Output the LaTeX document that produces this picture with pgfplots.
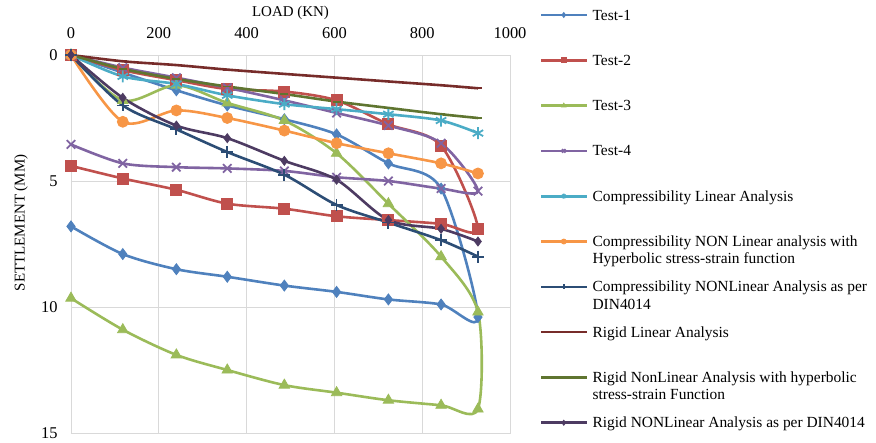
\documentclass[border=0pt]{standalone}
\usepackage{fontspec}
\setmainfont{Liberation Serif}
\usepackage{pgfplots}
\pgfplotsset{compat=1.18}
\definecolor{cA}{HTML}{4F81BD}
\definecolor{cB}{HTML}{C0504D}
\definecolor{cC}{HTML}{9BBB59}
\definecolor{cD}{HTML}{8064A2}
\definecolor{cE}{HTML}{4BACC6}
\definecolor{cF}{HTML}{F79646}
\definecolor{cG}{HTML}{2C4D75}
\definecolor{cH}{HTML}{772C2A}
\definecolor{cI}{HTML}{5F7530}
\definecolor{cJ}{HTML}{4D3B62}
\definecolor{gridc}{HTML}{D9D9D9}
\newcommand{\LE}[1]{\raisebox{0pt}[27.65bp][17.65bp]{\parbox[t]{290bp}{\raggedright #1}}}
\begin{document}
\begin{tikzpicture}
\begin{axis}[
  scale only axis, width=439bp, height=378bp,
  xmin=0, xmax=1000, ymin=0, ymax=15, y dir=reverse,
  xtick={0,200,...,1000}, ytick={0,5,10,15},
  xticklabel pos=upper, xlabel near ticks,
  xlabel={LOAD (KN)}, ylabel={SETTLEMENT (MM)},
  grid=major, major grid style={draw=gridc, line width=0.9bp},
  axis line style={draw=gridc, line width=0.9bp},
  major tick length=0pt,
  tick label style={font=\fontsize{16.5}{19}\selectfont},
  /pgf/number format/assume math mode=true,
  /pgf/number format/1000 sep={},
  xticklabel style={yshift=13bp},
  yticklabel style={xshift=-10bp},
  label style={font=\fontsize{15}{17}\selectfont},
  xlabel style={at={(axis description cs:0.5,1.111)}, anchor=center},
  ylabel style={at={(axis description cs:-0.114,0.556)}, anchor=center},
  clip=false,
  every axis plot/.append style={line width=2.6bp, smooth},
  legend cell align=left,
  legend style={draw=none, fill=none, at={(1.0683,1.1657)}, anchor=north west,
    font=\fontsize{15.5}{17.5}\selectfont, inner sep=0pt, outer sep=0pt, row sep=0pt,
    nodes={inner sep=0pt, text depth=},
    /tikz/every odd column/.append style={column sep=5bp}},
  legend image code/.code={\draw[mark repeat=2,mark phase=2] plot coordinates {(0bp,0bp) (22.5bp,0bp) (45bp,0bp)};},
  legend image post style={mark size=2.5bp},
]
% Test-1
\addplot[color=cA, mark=diamond*, mark size=5.5bp, mark options={line width=0.8bp}] coordinates {
(0,0) (118,0.7) (240,1.4) (356,2.0) (486,2.55) (605,3.15) (723,4.3) (843,5.3) (927,10.4)
(843,9.9) (723,9.7) (605,9.4) (486,9.15) (356,8.8) (240,8.5) (118,7.9) (0,6.8)};
\addlegendentry{\LE{Test-1}}
% Test-2
\addplot[color=cB, mark=square*, mark size=5.5bp, mark options={line width=0.8bp}] coordinates {
(0,0) (118,0.6) (240,1.0) (356,1.35) (486,1.45) (605,1.8) (723,2.75) (843,3.6) (927,6.9)
(843,6.7) (723,6.55) (605,6.4) (486,6.1) (356,5.9) (240,5.35) (118,4.9) (0,4.4)};
\addlegendentry{\LE{Test-2}}
% Test-3
\addplot[color=cC, mark=triangle*, mark size=6bp, mark options={line width=0.8bp}] coordinates {
(0,0) (118,1.8) (240,1.2) (356,1.9) (486,2.6) (605,3.9) (723,5.9) (843,8.0) (927,10.2) (927,14.05)
(843,13.9) (723,13.7) (605,13.4) (486,13.1) (356,12.5) (240,11.9) (118,10.9) (0,9.65)};
\addlegendentry{\LE{Test-3}}
% Test-4
\addplot[color=cD, mark=x, mark size=6bp, mark options={line width=1.8bp}] coordinates {
(0,0) (118,0.5) (240,0.9) (356,1.3) (486,1.8) (605,2.3) (723,2.8) (843,3.5) (927,5.4)
(843,5.3) (723,5.0) (605,4.85) (486,4.6) (356,4.5) (240,4.45) (118,4.3) (0,3.55)};
\addlegendentry{\LE{Test-4}}
% Compressibility Linear
\addplot[color=cE, mark=asterisk, mark size=6bp, mark options={line width=1.8bp}] coordinates {
(0,0) (118,0.85) (240,1.15) (356,1.6) (486,1.95) (605,2.15) (723,2.35) (843,2.6) (927,3.1)};
\addlegendentry{\LE{Compressibility Linear Analysis}}
% Compressibility NON Linear hyperbolic
\addplot[color=cF, mark=*, mark size=5.5bp, mark options={line width=0.8bp}] coordinates {
(0,0) (118,2.65) (240,2.2) (356,2.5) (486,3.0) (605,3.5) (723,3.9) (843,4.3) (927,4.7)};
\addlegendentry{\LE{Compressibility NON Linear analysis with\\Hyperbolic stress-strain function}}
% Compressibility NONLinear DIN
\addplot[color=cG, mark=+, mark size=6bp, mark options={line width=1.8bp}] coordinates {
(0,0) (118,2.0) (240,2.95) (356,3.85) (486,4.75) (605,5.95) (723,6.65) (843,7.35) (927,8.0)};
\addlegendentry{\LE{Compressibility NONLinear Analysis as per\\DIN4014}}
% Rigid Linear
\addplot[color=cH, mark=-, mark size=4bp, mark options={line width=1.8bp}] coordinates {
(0,0) (118,0.25) (240,0.4) (356,0.58) (486,0.75) (605,0.9) (723,1.05) (843,1.2) (927,1.32)};
\addlegendentry{\LE{Rigid Linear Analysis}}
% Rigid NonLinear hyperbolic
\addplot[color=cI, mark=-, mark size=4bp, mark options={line width=1.8bp}] coordinates {
(0,0) (118,0.55) (240,0.95) (356,1.25) (486,1.55) (605,1.85) (723,2.1) (843,2.35) (927,2.5)};
\addlegendentry{\LE{Rigid NonLinear Analysis with hyperbolic\\stress-strain Function}}
% Rigid NONLinear DIN
\addplot[color=cJ, mark=diamond*, mark size=4.5bp, mark options={line width=0.8bp}] coordinates {
(0,0) (118,1.7) (240,2.8) (356,3.3) (486,4.2) (605,4.95) (723,6.55) (843,6.9) (927,7.4)};
\addlegendentry{\LE{Rigid NONLinear Analysis as per DIN4014}}
\end{axis}
\pgfresetboundingbox
\path[use as bounding box] ([shift={(-71bp,-10bp)}]current axis.south west) rectangle ([shift={(366bp,55bp)}]current axis.north east);
\end{tikzpicture}
\end{document}
